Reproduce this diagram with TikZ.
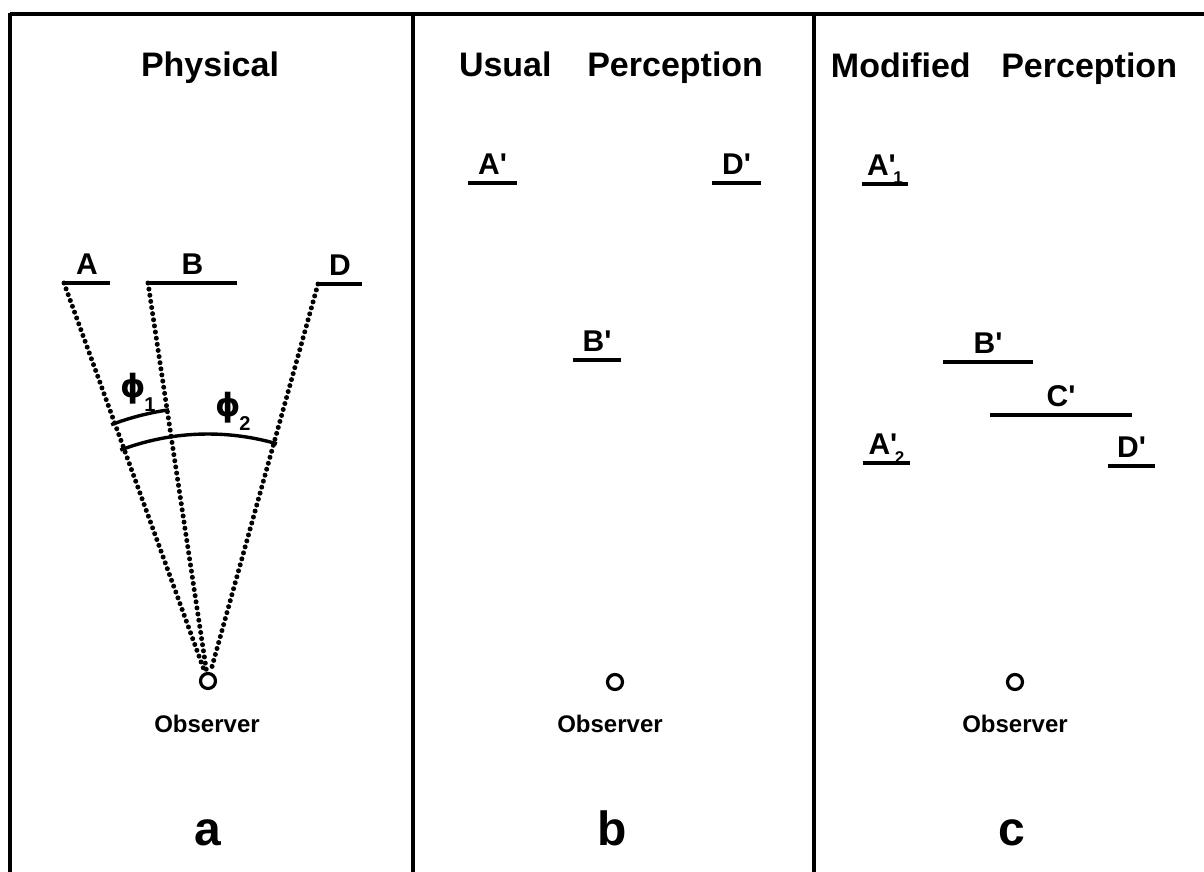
\documentclass[tikz,border=0pt]{standalone}
\usepackage{fontspec}
\setmainfont{Liberation Sans}
\newfontfamily\greekfont{DejaVu Sans}

% prime with a small index after it
\newcommand\prsub[1]{\textquotesingle\kern-0.08em\raisebox{-0.3em}{\fontsize{8.5}{8.5}\selectfont #1}}
% angle symbol with a lowered index
\newcommand\angsym[1]{{\greekfont\bfseries ϕ}\kern-0.05em\raisebox{-7pt}{\fontsize{10}{10}\selectfont #1}}

\begin{document}
\begin{tikzpicture}[
    x=0.5pt, y=-0.5pt,
    boxline/.style={line width=2pt},
    seg/.style={line width=2.4pt},
    sight/.style={line width=2.5pt, line cap=round, dash pattern=on 0pt off 3.1pt},
    angarc/.style={line width=1.7pt},
    lbl/.style={midway, anchor=base, yshift=4.5pt, inner sep=0pt,
      font=\bfseries\fontsize{15}{15}\selectfont},
    paneltitle/.style={anchor=base, inner sep=0pt,
      font=\bfseries\fontsize{17}{17}\selectfont},
    eye/.style={circle, draw, line width=1.6pt, minimum size=7.5pt, inner sep=0pt},
    obstext/.style={anchor=base, inner sep=0pt,
      font=\bfseries\fontsize{12}{12}\selectfont},
    panelletter/.style={anchor=base, inner sep=0pt,
      font=\bfseries\fontsize{24}{24}\selectfont},
    philbl/.style={anchor=base west, inner sep=0pt,
      font=\bfseries\fontsize{16}{16}\selectfont}
  ]
  \useasboundingbox (0,0) rectangle (1204,872);

  % frame
  \draw[boxline] (10,14) -- (1204,14);
  \foreach \xx in {10,413,814}
    \draw[boxline] (\xx,13) -- (\xx,872);

  % (a) physical
  \node[paneltitle] (tphys) at (210,76) {Physical};
  \node[eye] (obsa) at (208,681) {};
  \node[obstext] (oba) at (207,732) {Observer};
  \node[panelletter] (pa) at (208,845) {a};

  \coordinate (A) at (64,283);
  \coordinate (B) at (148,283);
  \coordinate (D) at (318,284);
  \draw[seg] (A) -- ++(46,0) node[lbl] {A};
  \draw[seg] (B) -- ++(89,0) node[lbl] {B};
  \draw[seg] (D) -- ++(44,0) node[lbl] {D};
  \foreach \p in {A,B,D}
    \draw[sight] (\p) -- (obsa);

  \draw[angarc] (obsa.center) ++(-110.7:274)
    arc[start angle=-110.7, end angle=-98.2, radius=274];
  \draw[angarc] (obsa.center) ++(-110.8:247)
    arc[start angle=-110.8, end angle=-73.8, radius=247];
  \node[philbl] (phione) at (120,397) {\angsym{1}};
  \node[philbl] (phitwo) at (215,416) {\angsym{2}};

  % (b) usual perception
  \node[paneltitle] (tusual) at (611,76) {Usual\hspace{1.05em}Perception};
  \node[eye] (obsb) at (615,682) {};
  \node[obstext] (obb) at (610,732) {Observer};
  \node[panelletter] (pb) at (612,845) {b};

  \coordinate (Ab) at (468,183);
  \coordinate (Db) at (712,183);
  \coordinate (Bb) at (573,360);
  \draw[seg] (Ab) -- ++(49,0) node[lbl] {A\textquotesingle};
  \draw[seg] (Db) -- ++(49,0) node[lbl] {D\textquotesingle};
  \draw[seg] (Bb) -- ++(48,0) node[lbl] {B\textquotesingle};

  % (c) modified perception
  \node[paneltitle] (tmod) at (1004,78) {Modified\hspace{0.9em}Perception};
  \node[eye] (obsc) at (1015,682) {};
  \node[obstext] (obc) at (1015,732) {Observer};
  \node[panelletter] (pc) at (1012,845) {c};

  \coordinate (Aone) at (862,184);
  \coordinate (Bc) at (943,362);
  \coordinate (Cc) at (990,415);
  \coordinate (Atwo) at (863,463);
  \coordinate (Dc) at (1108,466);
  \draw[seg] (Aone) -- ++(46,0) node[lbl] {A\prsub{1}};
  \draw[seg] (Bc) -- ++(90,0) node[lbl] {B\textquotesingle};
  \draw[seg] (Cc) -- ++(142,0) node[lbl] {C\textquotesingle};
  \draw[seg] (Atwo) -- ++(47,0) node[lbl] {A\prsub{2}};
  \draw[seg] (Dc) -- ++(47,0) node[lbl] {D\textquotesingle};
\end{tikzpicture}
\end{document}
